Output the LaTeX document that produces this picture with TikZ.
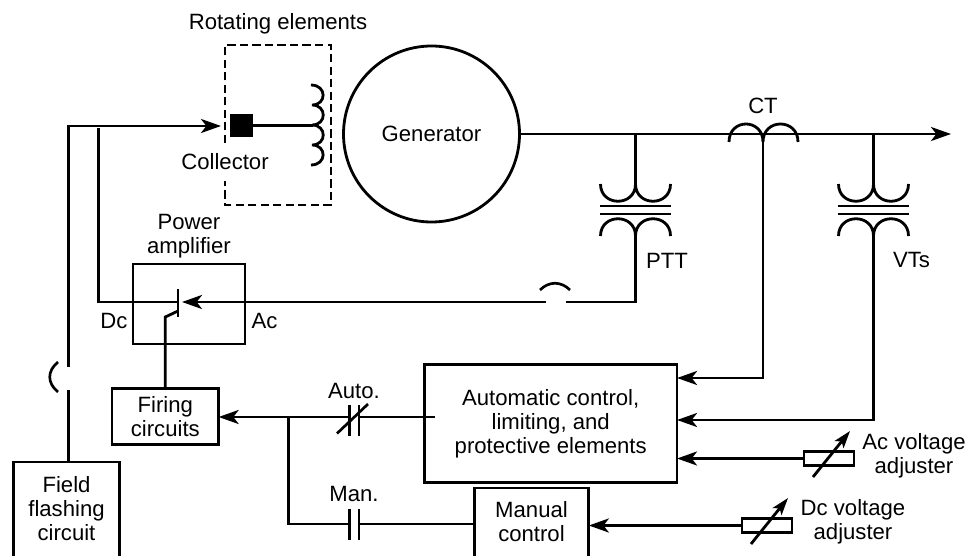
\documentclass[tikz,border=0pt]{standalone}
\usepackage{fontspec}
\setmainfont{Liberation Sans}
\usetikzlibrary{arrows.meta}
\tikzset{
  wire/.style={line width=2.1pt,line join=miter},
  thin wire/.style={line width=2pt},
  arr/.style={wire,-{Stealth[length=15pt,width=10.5pt,inset=4pt]}},
  adj/.style={line width=2.1pt,-{Stealth[length=13pt,width=8.5pt,inset=3pt]}},
  lab/.style={font=\fontsize{16.6}{18}\selectfont,align=center,inner sep=0pt,outer sep=0pt},
  box/.style={lab,draw,line width=2.1pt,minimum width=#1},
  rawbox/.style={lab},
  solid black/.style={fill=black,draw=none,inner sep=0pt,outer sep=0pt,minimum size=17.5pt},
  res/.style={draw,line width=2.1pt,fill=white,inner sep=0pt,outer sep=0pt,minimum width=37.5pt,minimum height=11pt},
  xfmr/.pic={
    \coordinate (-top) at (0,0);
    \coordinate (-bot) at (0,52);
    \draw[wire] (-35,0) .. controls (-35,23) and (0,23) .. (0,0) .. controls (0,23) and (35,23) .. (35,0);
    \draw[wire] (-36,22) -- (35,22);
    \draw[wire] (-36,30) -- (35,30);
    \draw[wire] (-35,52) .. controls (-35,29) and (0,29) .. (0,52) .. controls (0,29) and (35,29) .. (35,52);
  }
}
\begin{document}
\begin{tikzpicture}[x=0.75pt,y=-0.75pt]
\useasboundingbox (0,0) rectangle (967,556);

% labels
\node[lab] (trot) at (278,24) {Rotating elements};
\node[lab] (tcol) at (225,162) {Collector};
\node[lab] (tpow) at (189,236) {Power\\amplifier};
\node[lab] (tdc) at (114,321) {Dc};
\node[lab] (tac) at (264.5,321) {Ac};
\node[lab] (tct) at (763,106) {CT};
\node[lab] (tptt) at (667,261) {PTT};
\node[lab] (tvt) at (911.5,260) {VTs};
\node[lab] (tauto) at (354,391) {Auto.};
\node[lab] (tman) at (354,494) {Man.};
\node[lab] (tacv) at (914,456) {Ac voltage\\adjuster};
\node[lab] (tdcv) at (853,522) {Dc voltage\\adjuster};

% rotating elements
\coordinate (da) at (225,143);
\coordinate (db) at (225,45);
\coordinate (dc) at (331,45);
\coordinate (dd) at (331,205);
\coordinate (de) at (225,205);
\coordinate (df) at (225,181);
\draw[wire,dash pattern=on 6.2pt off 3.2pt] (da) -- (db) -- (dc) -- (dd) -- (de) -- (df);
\node[solid black] (coll) at (241.5,125.5) {};
\coordinate (coil0) at (313,125.5);
\draw[wire] (coll.east) -- (coil0);
\draw[wire] (311,85) .. controls (327,85) and (327,105) .. (312,105)
  .. controls (327,105) and (327,125) .. (312,125)
  .. controls (327,125) and (327,145) .. (312,145)
  .. controls (327,145) and (327,165) .. (311,165);

% generator and bus
\node[circle,draw,line width=2.1pt,minimum size=132pt,inner sep=0pt,outer sep=0pt,lab] (gen) at (431.5,134) {Generator};
\coordinate (out) at (951,134);
\draw[arr] (gen.east) -- (out);
\draw[wire] (729,142) .. controls (729,118) and (763,118) .. (763,142)
            .. controls (763,118) and (798,118) .. (798,142);

% transformers
\pic (ptt) at (635.5,184) {xfmr};
\pic (vt) at (873.5,184) {xfmr};
\coordinate (bp) at (635.5,134);
\coordinate (bv) at (873.5,134);
\coordinate (bc) at (763,134);
\draw[wire] (bp) -- (ptt-top);
\draw[wire] (bv) -- (vt-top);

% main boxes
\node[box=84pt,minimum height=60pt,outer sep=0pt] (amp) at (189,304) {};
\node[box=80pt,minimum height=42pt,outer sep=0pt] (fir) at (165.3,416.7) {Firing\\circuits};
\node[box=189.5pt,minimum height=89pt,outer sep=0pt] (auto) at (550.7,423.5) {Automatic control,\\limiting, and\\protective elements};
\node[rawbox,minimum width=80pt,minimum height=70.5pt] (field) at (66.5,509) {Field\\flashing\\circuit};
\draw[wire] (field.south west) -- (field.north west) -- (field.north east) -- (field.south east);
\node[rawbox,minimum width=86pt,minimum height=51pt] (man) at (531.5,522) {Manual\\control};
\draw[wire] (man.south west) -- (man.north west) -- (man.north east) -- (man.south east);

% field line
\coordinate (feed) at (68.5,126);
\coordinate (feedtip) at (221,126);
\coordinate (gap1) at (68.5,367);
\coordinate (gap2) at (68.5,390);
\draw[arr] (gap1) -- (feed) -- (feedtip);
\draw[wire] (gap2) -- (gap2 |- field.north);
\draw[thin wire] (58,362) .. controls (47,371) and (47,383) .. (58,392);

% power line
\coordinate (d1) at (98.5,128);
\coordinate (d2) at (98.5,302);
\coordinate (thy) at (178,302);
\coordinate (tip) at (182,302);
\coordinate (h1) at (546,302);
\coordinate (h2) at (566,302);
\draw[wire] (d1) -- (d2) -- (thy);
\draw[arr] (h1) -- (tip);
\draw[wire] (ptt-bot) -- (635.5,302) -- (h2);
\draw[thin wire] (540,290) .. controls (549,281) and (561,281) .. (570,290);

% thyristor
\coordinate (t1) at (178,289);
\coordinate (t2) at (178,317);
\coordinate (g1) at (178,311);
\coordinate (g2) at (165.3,317);
\draw[wire] (t1) -- (t2);
\draw[wire] (g1) -- (g2) -- (g2 |- fir.north);

% CT and VT signals
\coordinate (ct1) at (763,378);
\coordinate (vt1) at (873.5,420);
\draw[arr] (bc) -- (ct1) -- (ct1 -| auto.east);
\draw[arr] (vt-bot) -- (vt1) -- (vt1 -| auto.east);

% auto contact
\coordinate (ain) at (435,417);
\coordinate (ap1) at (349.5,417);
\coordinate (ap2) at (359,417);
\coordinate (br) at (288.5,417);
\coordinate (bm) at (288.5,524);
\coordinate (mp1) at (349.5,524);
\coordinate (mp2) at (359,524);
\draw[wire] (ain) -- (ap2);
\draw[arr] (ap1) -- (fir.east |- ap1);
\draw[thin wire] (349.5,405) -- (349.5,436);
\draw[thin wire] (359,405) -- (359,436);
\draw[thin wire] (337,433.5) -- (368,404);
% manual contact
\draw[wire] (br) -- (bm) -- (mp1);
\draw[wire] (mp2) -- (mp2 -| man.west);
\draw[thin wire] (349.5,509) -- (349.5,540);
\draw[thin wire] (359,509) -- (359,540);

% adjusters
\node[res] (ra) at (829,458.5) {};
\node[res] (rd) at (767,525.5) {};
\draw[arr] (ra.west) -- (ra.west -| auto.east);
\draw[arr] (rd.west) -- (rd.west -| man.east);
\coordinate (aa1) at (813,477);
\coordinate (aa2) at (850,431);
\coordinate (ad1) at (751,544);
\coordinate (ad2) at (788,498);
\draw[adj] (aa1) -- (aa2);
\draw[adj] (ad1) -- (ad2);
\end{tikzpicture}
\end{document}
